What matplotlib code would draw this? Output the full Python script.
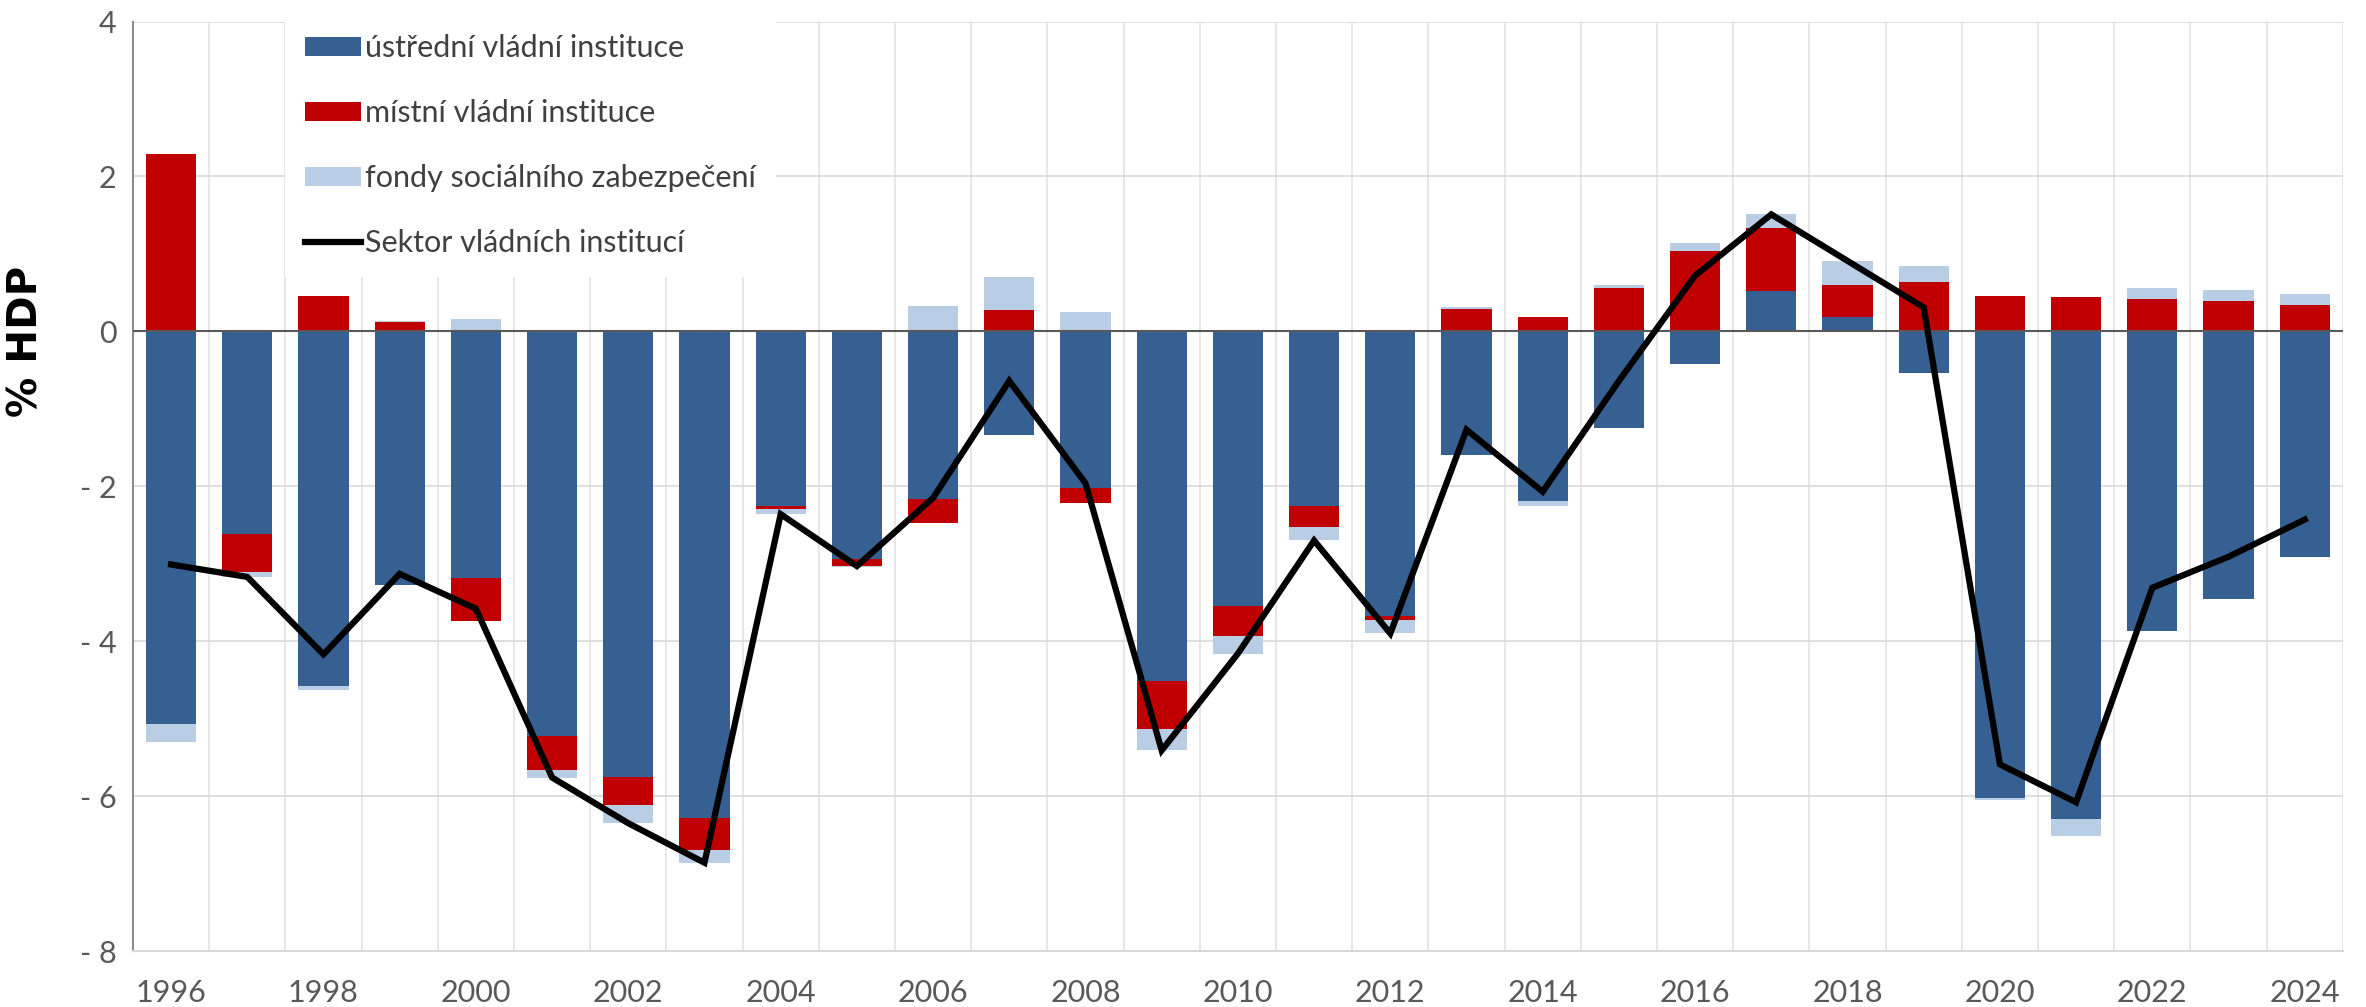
import matplotlib.pyplot as plt
import numpy as np
from matplotlib.ticker import FuncFormatter, MultipleLocator

years = list(range(1996, 2025))

# % HDP
central = [-5.07, -2.61, -4.58, -3.27, -3.18, -5.22, -5.75, -6.28, -2.26, -2.94,
           -2.16, -1.34, -2.02, -4.51, -3.55, -2.25, -3.67, -1.59, -2.19, -1.25,
           -0.42, 0.52, 0.18, -0.54, -6.02, -6.30, -3.87, -3.45, -2.91]
local = [2.29, -0.50, 0.46, 0.115, -0.56, -0.44, -0.37, -0.42, -0.03, -0.09,
         -0.32, 0.28, -0.19, -0.63, -0.38, -0.27, -0.06, 0.29, 0.18, 0.56,
         1.04, 0.82, 0.42, 0.64, 0.46, 0.44, 0.42, 0.39, 0.34]
social = [-0.23, -0.06, -0.05, 0.025, 0.16, -0.10, -0.23, -0.16, -0.07, -0.01,
          0.33, 0.42, 0.25, -0.27, -0.23, -0.18, -0.17, 0.03, -0.06, 0.045,
          0.10, 0.17, 0.31, 0.21, -0.03, -0.22, 0.14, 0.15, 0.14]
total = [-3.01, -3.17, -4.17, -3.13, -3.58, -5.76, -6.35, -6.86, -2.36, -3.03,
         -2.15, -0.64, -1.96, -5.41, -4.16, -2.70, -3.90, -1.27, -2.07, -0.64,
         0.72, 1.51, 0.91, 0.31, -5.59, -6.08, -3.31, -2.91, -2.43]

labels = ["ústřední vládní instituce", "místní vládní instituce",
          "fondy sociálního zabezpečení", "Sektor vládních institucí"]
colors = ["#376092", "#C00000", "#B9CDE5"]

plt.rcParams['font.family'] = ['Lato', 'DejaVu Sans']

fig = plt.figure(figsize=(23.66, 10.07), dpi=100)
ax = fig.add_axes([0.0562, 0.0556, 0.934, 0.923])

x = np.arange(len(years))
pos = np.zeros(len(years))
neg = np.zeros(len(years))
handles = []
for vals, col, lab in zip([central, local, social], colors, labels[:3]):
    v = np.array(vals)
    bottom = np.where(v >= 0, pos, neg)
    h = ax.bar(x, v, width=0.66, bottom=bottom, color=col, label=lab, zorder=3)
    handles.append(h)
    pos = pos + np.clip(v, 0, None)
    neg = neg + np.clip(v, None, 0)

ln, = ax.plot(x, total, color='black', lw=4.5, solid_joinstyle='miter', label=labels[3], zorder=4)
handles.append(ln)
ax.axhline(0, color='#595959', lw=1.5, zorder=3.5)

ax.set_xlim(-0.5, len(years) - 0.5)
ax.set_ylim(-8, 4)
ax.yaxis.set_major_locator(MultipleLocator(2))
ax.yaxis.set_major_formatter(FuncFormatter(lambda v, p: f"- {abs(v):g}" if v < 0 else f"{v:g}"))
ax.set_xticks(x[::2])
ax.set_xticklabels([str(y) for y in years[::2]])
ax.set_xticks(np.arange(-0.5, len(years)), minor=True)
ax.grid(axis='y', which='major', color='#d9d9d9', lw=1.2, zorder=0)
ax.grid(axis='x', which='minor', color='#e3e3e3', lw=1.2, zorder=0)
ax.tick_params(axis='both', which='both', length=0, labelsize=22, labelcolor='#595959')
ax.tick_params(axis='x', pad=20)
ax.tick_params(axis='y', pad=12)

for s in ['top', 'right']:
    ax.spines[s].set_visible(False)
ax.spines['left'].set_color('#8c8c8c')
ax.spines['left'].set_linewidth(1.5)
ax.spines['bottom'].set_color('#d9d9d9')
ax.spines['bottom'].set_linewidth(1.5)

ax.set_ylabel("% HDP", fontsize=29, fontweight='bold', family='DejaVu Sans')
ax.yaxis.set_label_coords(-0.039, 0.656)

leg = ax.legend(handles=handles, labels=labels, loc='upper left', bbox_to_anchor=(0.069, 1.0075),
                fontsize=22, frameon=True, facecolor='white', edgecolor='none', framealpha=1,
                fancybox=False, handlelength=1.83, handleheight=0.59, handletextpad=0.12,
                labelspacing=1.21, borderpad=0.65, borderaxespad=0)
for t in leg.get_texts():
    t.set_color('#404040')
leg.set_zorder(5)

fig.savefig("out.png", dpi=100)
